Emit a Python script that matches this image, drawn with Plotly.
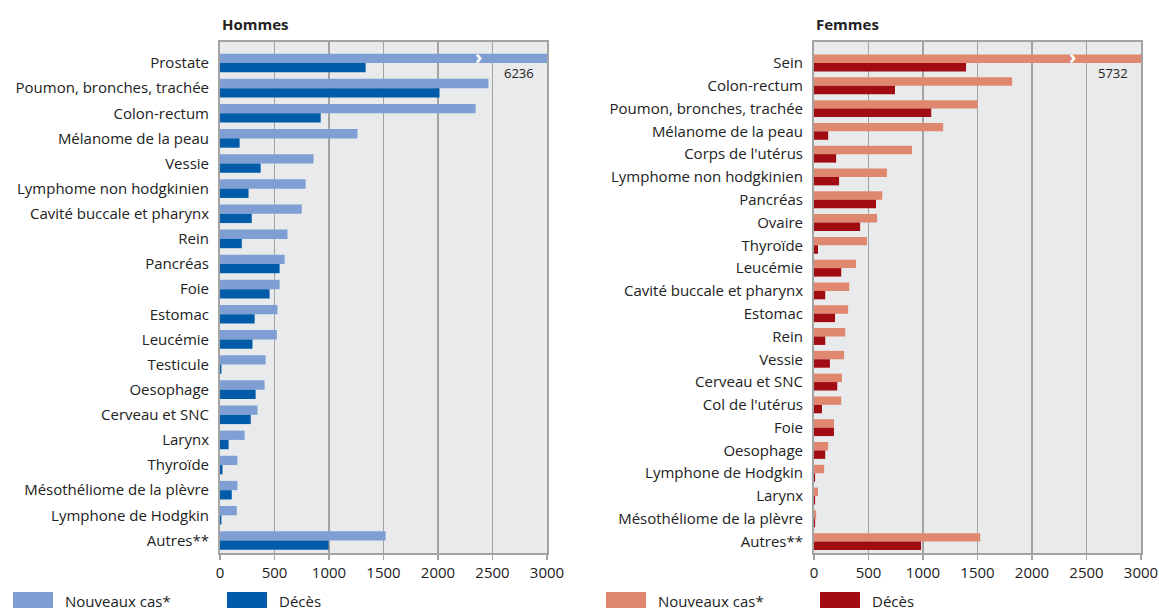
import plotly.graph_objects as go

W, H = 1159, 608

# ---------------- data ----------------
men_categories = [
    "Prostate", "Poumon, bronches, trachée", "Colon-rectum", "Mélanome de la peau",
    "Vessie", "Lymphome non hodgkinien", "Cavité buccale et pharynx", "Rein",
    "Pancréas", "Foie", "Estomac", "Leucémie", "Testicule", "Oesophage",
    "Cerveau et SNC", "Larynx", "Thyroïde", "Mésothéliome de la plèvre",
    "Lymphone de Hodgkin", "Autres**",
]
men_new = [6236, 2463, 2345, 1261, 858, 786, 750, 619, 593, 547, 527, 521, 419,
           409, 344, 226, 160, 160, 154, 1520]
men_deaths = [1336, 2014, 924, 180, 373, 262, 291, 200, 547, 455, 318, 298, 13,
              327, 282, 79, 23, 108, 13, 996]

women_categories = [
    "Sein", "Colon-rectum", "Poumon, bronches, trachée", "Mélanome de la peau",
    "Corps de l'utérus", "Lymphome non hodgkinien", "Pancréas", "Ovaire",
    "Thyroïde", "Leucémie", "Cavité buccale et pharynx", "Estomac", "Rein",
    "Vessie", "Cerveau et SNC", "Col de l'utérus", "Foie", "Oesophage",
    "Lymphone de Hodgkin", "Larynx", "Mésothéliome de la plèvre", "Autres**",
]
women_new = [5732, 1818, 1502, 1185, 899, 669, 626, 579, 486, 386, 323, 313, 286,
             276, 256, 250, 183, 130, 93, 37, 20, 1525]
women_deaths = [1395, 743, 1076, 130, 203, 230, 569, 423, 37, 250, 103, 193, 103,
                146, 213, 73, 183, 103, 10, 10, 10, 982]

x_ticks = [0, 500, 1000, 1500, 2000, 2500, 3000]
x_max = 3000
break_at = 2375

legend_new = "Nouveaux cas*"
legend_deaths = "Décès"

# ---------------- style ----------------
MEN_NEW = "#7f9fd4"
MEN_DEATH = "#005ca8"
WOMEN_NEW = "#e0886f"
WOMEN_DEATH = "#a00c12"
BG = "#e9eaec"
GRID = "#a3a3a3"
TEXT = "#222222"
FONT = "Open Sans"

fig = go.Figure()

panels = [
    ("x", "y", men_categories, men_new, men_deaths, MEN_NEW, MEN_DEATH),
    ("x2", "y2", women_categories, women_new, women_deaths, WOMEN_NEW, WOMEN_DEATH),
]
for xa, ya, cats, new, deaths, c_new, c_death in panels:
    fig.add_trace(go.Bar(y=cats, x=new, orientation="h", marker_color=c_new,
                         marker_line_width=0, xaxis=xa, yaxis=ya, name=legend_new,
                         showlegend=False))
    fig.add_trace(go.Bar(y=cats, x=deaths, orientation="h", marker_color=c_death,
                         marker_line_width=0, xaxis=xa, yaxis=ya, name=legend_deaths,
                         showlegend=False))
    # break chevron on the clipped bar and its true value
    fig.add_annotation(x=break_at, y=cats[0], xref=xa, yref=ya, text="<b>›</b>",
                       showarrow=False, font=dict(color="white", size=20, family=FONT),
                       yshift=6, xanchor="center", yanchor="middle")
    fig.add_annotation(x=x_max, y=cats[0], xref=xa, yref=ya, text=str(new[0]),
                       showarrow=False, font=dict(color=TEXT, size=13, family=FONT),
                       xanchor="right", yanchor="middle", xshift=-11, yshift=-10)

dom_left = [220 / W, 547 / W]
dom_right = [814 / W, 1141 / W]
ydom = [1 - 553 / H, 1 - 42 / H]

xcommon = dict(range=[0, x_max], tickvals=x_ticks, ticktext=[str(t) for t in x_ticks],
               showgrid=True, gridcolor=GRID, gridwidth=1.5, zeroline=False,
               showline=True, linecolor=GRID, linewidth=2, mirror=True,
               ticks="outside", ticklen=5, tickcolor=GRID, tickwidth=1.5,
               tickfont=dict(size=15, color=TEXT, family=FONT), automargin=False,
               fixedrange=True)
ycommon = dict(autorange="reversed", showgrid=False, zeroline=False,
               showline=True, linecolor=GRID, linewidth=2, mirror=True, ticks="",
               ticklabelstandoff=6,
               tickfont=dict(size=15, color=TEXT, family=FONT), automargin=False,
               fixedrange=True)

fig.update_layout(
    width=W, height=H,
    margin=dict(l=0, r=0, t=0, b=0),
    paper_bgcolor="white", plot_bgcolor=BG,
    barmode="group", bargap=0.26, bargroupgap=0,
    font=dict(family=FONT, color=TEXT),
    xaxis=dict(domain=dom_left, anchor="y", **xcommon),
    yaxis=dict(domain=ydom, anchor="x", categoryorder="array",
               categoryarray=men_categories, **ycommon),
    xaxis2=dict(domain=dom_right, anchor="y2", **xcommon),
    yaxis2=dict(domain=ydom, anchor="x2", categoryorder="array",
                categoryarray=women_categories, **ycommon),
    showlegend=False,
)

# panel titles
for xpx, title in [(220, "Hommes"), (814, "Femmes")]:
    fig.add_annotation(x=xpx / W, y=1 - 24 / H, xref="paper", yref="paper",
                       text=f"<b>{title}</b>", showarrow=False, xanchor="left",
                       yanchor="middle", font=dict(size=15, color=TEXT, family=FONT))

# legends (swatches + text), partially cut by the bottom edge as in the reference
legend_items = [
    (13, MEN_NEW, legend_new), (227, MEN_DEATH, legend_deaths),
    (606, WOMEN_NEW, legend_new), (820, WOMEN_DEATH, legend_deaths),
]
for xpx, color, label in legend_items:
    fig.add_shape(type="rect", xref="paper", yref="paper",
                  x0=xpx / W, x1=(xpx + 40) / W, y0=1 - 592 / H, y1=-0.05,
                  fillcolor=color, line_width=0)
    fig.add_annotation(x=(xpx + 50) / W, y=1 - 601 / H, xref="paper", yref="paper",
                       text=label, showarrow=False, xanchor="left", yanchor="middle",
                       font=dict(size=15, color=TEXT, family=FONT))

fig.write_html("out.html",
               config={"displayModeBar": False, "staticPlot": True},
               post_script="document.body.style.margin='0px';"
                           "document.body.style.overflow='hidden';")
